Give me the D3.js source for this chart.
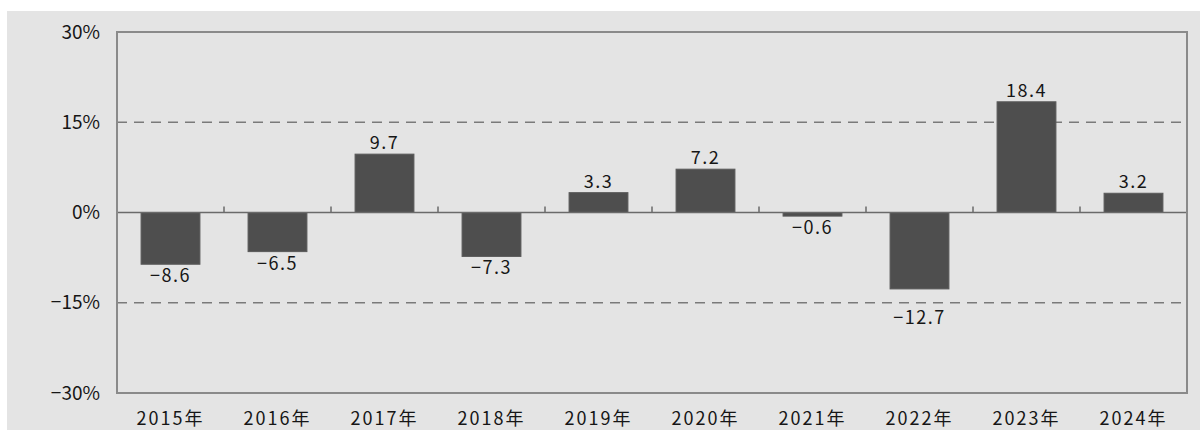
<!DOCTYPE html>
<html>
<head>
<meta charset="utf-8">
<script src="https://cdn.jsdelivr.net/npm/d3@7"></script>
<style>
  body { margin: 0; background: #fff; }
  svg text { font-family: "Noto Sans CJK JP", "DejaVu Sans", sans-serif; fill: #161616; }
</style>
</head>
<body>
<div id="vis"></div>
<script>
const years = ["2015年", "2016年", "2017年", "2018年", "2019年", "2020年", "2021年", "2022年", "2023年", "2024年"];
const values = [-8.6, -6.5, 9.7, -7.3, 3.3, 7.2, -0.6, -12.7, 18.4, 3.2];
const yTicks = [-30, -15, 0, 15, 30];

const width = 1200;
const height = 430;
const margin = { top: 32, right: 13, bottom: 37, left: 117 };
const innerW = width - margin.left - margin.right;
const innerH = height - margin.top - margin.bottom;

const svg = d3.select("#vis")
  .append("svg")
  .attr("width", width)
  .attr("height", height);

// grey panel
svg.append("rect")
  .attr("x", 7).attr("y", 11)
  .attr("width", width - 7).attr("height", height - 11)
  .attr("fill", "#e4e4e4");

const g = svg.append("g")
  .attr("transform", "translate(" + margin.left + "," + margin.top + ")");

const xScale = d3.scaleBand().domain(years).range([0, innerW]).paddingInner(0.45).paddingOuter(0.225);
const yScale = d3.scaleLinear().domain([-30, 30]).range([innerH, 0]);

const gridVals = yTicks.filter(d => Math.abs(d) === 15);

// dashed gridlines at ±15
g.selectAll(".grid")
  .data(gridVals)
  .enter()
  .append("line")
  .attr("x1", 0).attr("x2", innerW)
  .attr("y1", d => yScale(d)).attr("y2", d => yScale(d))
  .attr("stroke", "#7a7a7a")
  .attr("stroke-width", 1.3)
  .attr("stroke-dasharray", "10,7");

// bars
g.selectAll(".bar")
  .data(values)
  .enter()
  .append("rect")
  .attr("x", (d, i) => xScale(years[i]))
  .attr("y", d => yScale(Math.max(0, d)))
  .attr("width", xScale.bandwidth())
  .attr("height", d => Math.abs(yScale(d) - yScale(0)))
  .attr("fill", "#4e4e4e")
  .attr("stroke", "#5a5a5a")
  .attr("stroke-width", 1);

// zero line
g.append("line")
  .attr("x1", 0).attr("x2", innerW)
  .attr("y1", yScale(0)).attr("y2", yScale(0))
  .attr("stroke", "#6a6a6a")
  .attr("stroke-width", 1.5);

// category boundary ticks on zero line
const step = xScale.step();
g.selectAll(".ctick")
  .data(d3.range(1, years.length))
  .enter()
  .append("line")
  .attr("x1", d => d * step).attr("x2", d => d * step)
  .attr("y1", yScale(0)).attr("y2", yScale(0) - 6)
  .attr("stroke", "#6a6a6a")
  .attr("stroke-width", 1.5);

// frame
g.append("rect")
  .attr("x", 0).attr("y", 0)
  .attr("width", innerW).attr("height", innerH)
  .attr("fill", "none")
  .attr("stroke", "#8a8a8a")
  .attr("stroke-width", 2);

// negative labels go under the bar, or under the dashed line if they would hit it
function negLabelTop(d) {
  let top = yScale(d) + 3;
  gridVals.forEach(gv => {
    const gy = yScale(gv);
    if (gy > top - 2 && gy < top + 18) top = gy + 6;
  });
  return top;
}

// value labels
g.selectAll(".vlabel")
  .data(values)
  .enter()
  .append("text")
  .attr("x", (d, i) => xScale(years[i]) + xScale.bandwidth() / 2)
  .attr("y", d => d >= 0 ? yScale(d) - 5 : negLabelTop(d) + 15)
  .attr("text-anchor", "middle")
  .attr("font-size", 18)
  .attr("letter-spacing", 1.5)
  .text(d => d < 0 ? "\u2212" + Math.abs(d).toFixed(1) : d.toFixed(1));

// y tick labels
g.selectAll(".ylabel")
  .data(yTicks)
  .enter()
  .append("text")
  .attr("x", -17)
  .attr("y", d => yScale(d))
  .attr("dy", "0.35em")
  .attr("text-anchor", "end")
  .attr("font-size", 19)
  .text(d => (d < 0 ? "\u2212" + Math.abs(d) : d) + "%");

// x labels
g.selectAll(".xlabel")
  .data(years)
  .enter()
  .append("text")
  .attr("x", d => xScale(d) + xScale.bandwidth() / 2)
  .attr("y", innerH + 32)
  .attr("text-anchor", "middle")
  .attr("font-size", 18)
  .attr("letter-spacing", 2)
  .text(d => d);
</script>
</body>
</html>
